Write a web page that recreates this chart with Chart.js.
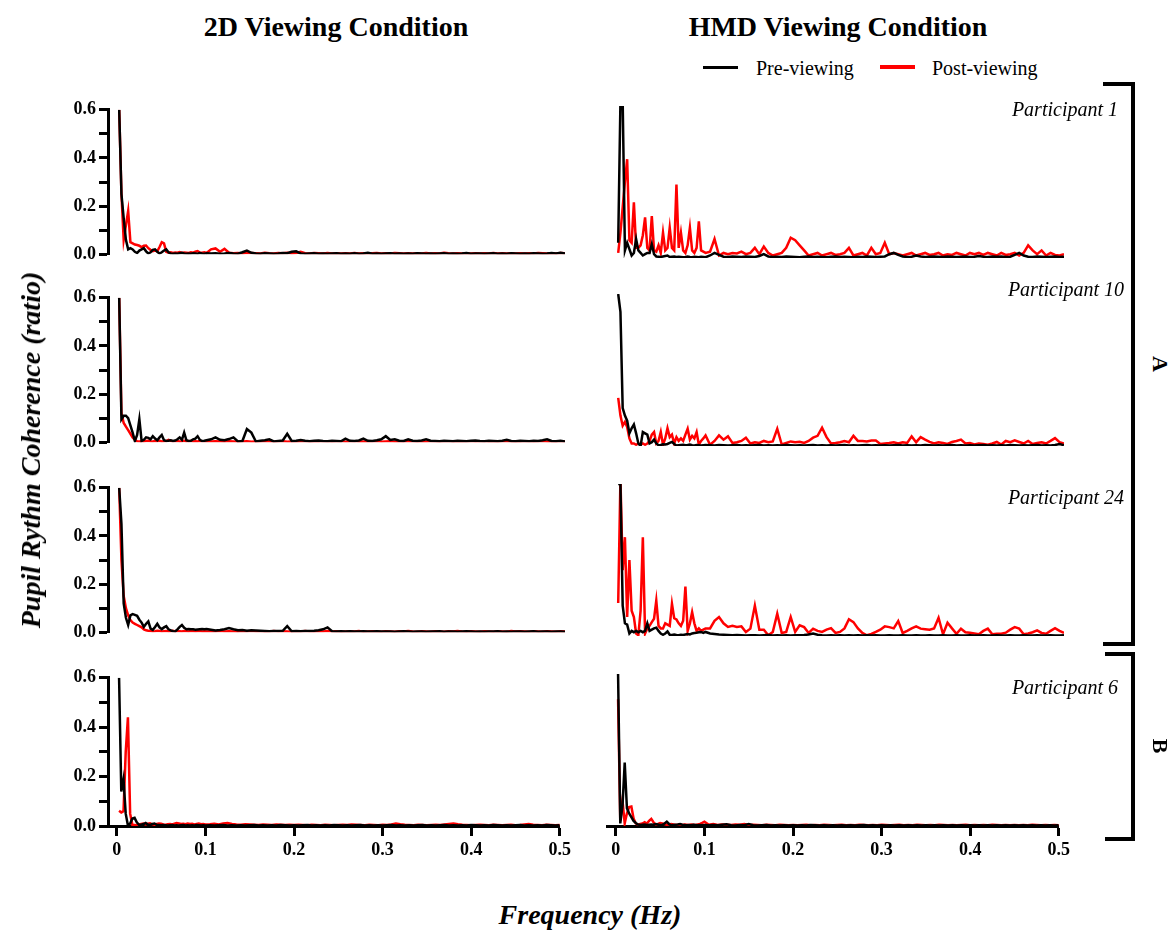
<!DOCTYPE html>
<html>
<head>
<meta charset="utf-8">
<script src="https://cdn.jsdelivr.net/npm/chart.js@4.4.0/dist/chart.umd.min.js"></script>
<style>
  html, body { margin:0; padding:0; background:#fff; }
  body { position:relative; width:1173px; height:930px; overflow:hidden; font-family:"Liberation Serif","Times New Roman",serif; color:#000; }
  .t { position:absolute; white-space:nowrap; line-height:1; }
  .bar { position:absolute; background:#000; }
</style>
</head>
<body>
<script>
// ---------------- DATA ----------------
const freqHz = [
.0025,.005,.0075,.01,.0125,.015,.0175,.02,.0225,.025,
.0275,.03,.0325,.035,.0375,.04,.0425,.045,.0475,.05,
.0525,.055,.0575,.06,.0625,.065,.0675,.07,.0725,.075,
.0775,.08,.0825,.085,.0875,.09,.0925,.095,.0975,.1,
.105,.11,.115,.12,.125,.13,.135,.14,.145,.15,
.155,.16,.165,.17,.175,.18,.185,.19,.195,.2,
.205,.21,.215,.22,.225,.23,.235,.24,.245,.25,
.255,.26,.265,.27,.275,.28,.285,.29,.295,.3,
.305,.31,.315,.32,.325,.33,.335,.34,.345,.35,
.355,.36,.365,.37,.375,.38,.385,.39,.395,.4,
.405,.41,.415,.42,.425,.43,.435,.44,.445,.45,
.455,.46,.465,.47,.475,.48,.485,.49,.495,.5];

const xTickValues = [0, 0.1, 0.2, 0.3, 0.4, 0.5];
const yTickValues = [0, 0.1, 0.2, 0.3, 0.4, 0.5, 0.6];
const seriesNames = ['Pre-viewing', 'Post-viewing'];
const participants = ['Participant 1', 'Participant 10', 'Participant 24', 'Participant 6'];
const conditions = ['2D Viewing Condition', 'HMD Viewing Condition'];

// 2D viewing condition
const pre2dP1 = [
.6,.25,.15,.06,.02,.025,.02,.01,.005,.015,
.02,.025,.012,.003,.008,.018,.02,.01,.003,.008,
.015,.02,.008,.003,.002,.003,.002,.004,.006,.003,
.002,.003,.002,.004,.003,.002,.005,.003,.002,.004,
.003,.004,.002,.003,.005,.003,.002,.008,.015,.006,
.003,.002,.004,.003,.002,.003,.005,.004,.01,.012,
.003,.002,.003,.004,.002,.003,.002,.003,.004,.002,
.003,.002,.004,.002,.003,.006,.002,.003,.002,.003,
.004,.002,.003,.002,.003,.002,.004,.003,.002,.003,
.002,.003,.004,.002,.003,.002,.003,.005,.002,.003,
.003,.002,.003,.004,.002,.003,.002,.004,.003,.002,
.003,.002,.004,.003,.002,.003,.005,.003,.006,.003];
const post2dP1 = [
.6,.25,.06,.12,.18,.05,.045,.04,.038,.035,
.03,.035,.036,.025,.018,.013,.015,.012,.03,.05,
.045,.01,.006,.008,.005,.007,.006,.009,.005,.007,
.006,.005,.008,.006,.01,.013,.007,.006,.008,.005,
.02,.024,.01,.022,.006,.004,.005,.003,.006,.005,
.004,.003,.006,.004,.003,.005,.004,.006,.003,.005,
.01,.004,.003,.005,.004,.003,.005,.003,.004,.003,
.004,.003,.005,.003,.004,.003,.004,.005,.003,.004,
.003,.005,.004,.003,.004,.003,.004,.003,.005,.003,
.004,.003,.006,.004,.003,.004,.003,.004,.003,.004,
.003,.004,.003,.005,.003,.004,.003,.004,.003,.004,
.003,.004,.003,.005,.004,.003,.004,.003,.005,.004];
const pre2dP10 = [
.6,.095,.11,.11,.1,.07,.04,.005,.03,.095,
.005,.01,.02,.018,.012,.025,.015,.008,.02,.03,
.008,.005,.006,.008,.005,.007,.012,.02,.01,.04,
.008,.005,.006,.012,.015,.025,.01,.005,.006,.008,
.012,.02,.01,.008,.013,.02,.003,.005,.055,.04,
.003,.006,.008,.012,.003,.005,.007,.035,.005,.006,
.009,.006,.004,.006,.007,.005,.004,.006,.005,.004,
.015,.006,.005,.007,.015,.006,.005,.008,.012,.025,
.009,.012,.006,.005,.012,.006,.005,.007,.012,.006,
.005,.004,.006,.005,.004,.006,.005,.004,.006,.007,
.005,.004,.006,.005,.004,.006,.01,.005,.004,.006,
.005,.004,.006,.005,.008,.012,.005,.004,.006,.003];
const post2dP10 = [
.6,.12,.08,.065,.05,.035,.02,.01,.004,.003,
.004,.003,.005,.006,.004,.003,.005,.004,.006,.003,
.004,.005,.01,.006,.003,.004,.005,.003,.004,.006,
.003,.004,.005,.003,.004,.003,.005,.004,.003,.004,
.003,.004,.003,.002,.004,.003,.002,.003,.004,.002,
.003,.002,.004,.003,.002,.003,.004,.002,.003,.002,
.003,.004,.002,.003,.002,.004,.003,.002,.003,.004,
.002,.003,.004,.002,.003,.002,.003,.004,.002,.003,
.004,.002,.003,.002,.004,.003,.002,.003,.002,.004,
.003,.002,.003,.004,.002,.003,.002,.003,.004,.002,
.003,.004,.002,.003,.002,.003,.004,.002,.003,.002,
.004,.003,.002,.003,.004,.002,.003,.002,.004,.003];
const pre2dP24 = [
.6,.45,.12,.06,.03,.07,.075,.072,.068,.052,
.04,.022,.035,.045,.015,.01,.022,.035,.02,.013,
.02,.025,.012,.008,.004,.003,.012,.022,.03,.018,
.012,.013,.012,.012,.01,.011,.012,.013,.012,.013,
.01,.007,.009,.012,.017,.012,.008,.009,.006,.008,
.007,.006,.005,.004,.005,.005,.006,.025,.004,.005,
.004,.005,.005,.006,.008,.012,.02,.004,.003,.004,
.003,.004,.003,.003,.004,.003,.003,.004,.003,.003,
.003,.002,.003,.004,.003,.002,.003,.003,.002,.003,
.003,.004,.002,.003,.003,.002,.003,.004,.003,.002,
.003,.002,.003,.003,.004,.002,.003,.002,.003,.003,
.002,.003,.004,.002,.003,.003,.002,.003,.003,.002];
const post2dP24 = [
.6,.3,.15,.1,.07,.05,.04,.035,.03,.025,
.02,.012,.008,.006,.005,.003,.004,.006,.005,.003,
.004,.005,.003,.004,.006,.003,.005,.004,.003,.005,
.004,.003,.005,.004,.003,.004,.005,.003,.004,.003,
.004,.003,.005,.003,.004,.003,.002,.004,.003,.005,
.003,.004,.002,.003,.005,.003,.004,.003,.002,.004,
.003,.005,.003,.002,.004,.003,.005,.003,.004,.002,
.003,.004,.003,.005,.002,.003,.004,.003,.002,.004,
.003,.002,.004,.003,.005,.003,.002,.004,.003,.002,
.004,.003,.002,.004,.003,.005,.003,.002,.004,.003,
.002,.004,.003,.002,.004,.003,.002,.005,.003,.004,
.003,.002,.004,.003,.002,.004,.003,.002,.004,.003];
const pre2dP6 = [
.6,.14,.19,.05,.002,.01,.03,.033,.015,.005,
.005,.008,.012,.006,.004,.008,.01,.005,.004,.003,
.004,.003,.002,.003,.004,.002,.003,.002,.003,.004,
.002,.003,.002,.003,.002,.004,.003,.002,.003,.002,
.003,.002,.003,.004,.002,.003,.002,.003,.002,.003,
.004,.002,.003,.002,.003,.002,.004,.003,.002,.003,
.002,.003,.004,.002,.003,.002,.003,.002,.004,.003,
.002,.003,.002,.003,.004,.002,.003,.002,.003,.002,
.003,.004,.002,.003,.002,.003,.002,.003,.004,.002,
.003,.002,.003,.004,.002,.003,.002,.003,.002,.004,
.003,.002,.003,.002,.004,.003,.002,.003,.002,.003,
.004,.002,.003,.002,.003,.002,.004,.003,.002,.003];
const post2dP6 = [
.062,.055,.06,.3,.44,.05,.005,.004,.003,.006,
.008,.01,.006,.009,.011,.007,.005,.008,.01,.009,
.006,.005,.007,.008,.006,.009,.012,.01,.008,.009,
.007,.01,.008,.009,.006,.008,.01,.007,.008,.006,
.007,.009,.006,.01,.012,.008,.006,.005,.007,.006,
.005,.004,.006,.005,.004,.006,.005,.004,.005,.004,
.005,.004,.003,.005,.004,.003,.005,.004,.003,.004,
.005,.004,.006,.005,.004,.003,.005,.004,.003,.005,
.004,.006,.01,.007,.005,.004,.003,.005,.004,.003,
.004,.005,.004,.006,.008,.01,.007,.005,.004,.003,
.004,.005,.004,.003,.005,.004,.003,.004,.005,.003,
.004,.006,.008,.005,.004,.003,.005,.004,.003,.004];

// HMD viewing condition
const preHmdP1 = [
.06,.62,.62,.03,.06,.035,.01,.02,.075,.03,
.02,.01,.015,.02,.02,.055,.015,.006,.005,.004,
.006,.008,.01,.004,.005,.006,.004,.005,.004,.003,
.004,.006,.004,.003,.005,.004,.003,.005,.004,.003,
.01,.02,.012,.005,.004,.006,.005,.004,.006,.005,
.004,.008,.015,.006,.004,.005,.004,.006,.005,.004,
.003,.005,.006,.004,.005,.004,.003,.005,.006,.004,
.005,.004,.003,.005,.004,.006,.005,.004,.005,.006,
.015,.02,.012,.006,.004,.005,.01,.006,.004,.005,
.006,.005,.004,.006,.005,.004,.005,.006,.004,.005,
.008,.005,.004,.006,.005,.006,.004,.005,.012,.02,
.01,.005,.004,.006,.005,.004,.005,.006,.004,.005];
const postHmdP1 = [
.02,.1,.2,.3,.39,.07,.06,.22,.04,.04,
.05,.09,.16,.04,.03,.165,.03,.025,.05,.02,
.1,.03,.04,.12,.04,.03,.29,.04,.1,.03,
.02,.05,.12,.03,.02,.04,.145,.03,.025,.02,
.025,.075,.01,.02,.015,.02,.018,.025,.015,.02,
.04,.015,.045,.02,.01,.015,.02,.04,.08,.07,
.05,.03,.01,.015,.02,.01,.015,.02,.012,.015,
.02,.04,.01,.015,.02,.01,.04,.015,.02,.06,
.015,.02,.015,.01,.015,.02,.01,.015,.02,.012,
.015,.02,.01,.015,.012,.02,.015,.01,.02,.015,
.02,.012,.02,.015,.01,.02,.012,.015,.02,.01,
.02,.05,.03,.015,.03,.01,.02,.012,.01,.015];
const preHmdP10 = [
.6,.53,.15,.12,.1,.05,.07,.085,.05,.01,
.0,.055,.05,.045,.01,.015,.025,.01,.003,.004,
.007,.006,.008,.012,.016,.008,.002,.003,.004,.005,
.003,.004,.006,.003,.002,.004,.003,.002,.003,.004,
.003,.002,.004,.003,.002,.003,.004,.002,.003,.002,
.003,.004,.002,.003,.002,.003,.002,.004,.003,.002,
.003,.002,.003,.004,.002,.003,.002,.003,.002,.003,
.004,.002,.003,.002,.003,.004,.002,.003,.002,.003,
.002,.003,.004,.002,.003,.002,.003,.002,.004,.003,
.002,.003,.002,.003,.004,.002,.003,.002,.003,.002,
.003,.004,.002,.003,.002,.003,.002,.004,.003,.002,
.003,.002,.003,.004,.002,.003,.002,.004,.008,.003];
const postHmdP10 = [
.19,.12,.08,.095,.075,.03,.01,.01,.005,.01,
.005,.01,.005,.01,.02,.045,.055,.01,.02,.055,
.005,.03,.07,.035,.045,.01,.035,.02,.03,.02,
.045,.068,.025,.04,.03,.055,.005,.02,.03,.042,
.005,.02,.042,.025,.038,.012,.015,.02,.033,.01,
.015,.012,.02,.015,.018,.068,.006,.012,.018,.015,
.017,.012,.02,.033,.04,.072,.035,.01,.012,.015,
.02,.015,.04,.02,.02,.018,.022,.022,.008,.01,
.012,.015,.01,.015,.012,.038,.015,.035,.025,.016,
.01,.015,.012,.008,.016,.02,.025,.01,.012,.006,
.01,.008,.005,.01,.016,.006,.02,.015,.022,.016,
.01,.02,.008,.012,.015,.01,.02,.031,.015,.01];
const preHmdP24 = [
.6,.6,.12,.05,.045,.01,.02,.015,.02,.015,
.02,.015,.02,.05,.02,.025,.03,.033,.02,.01,
.005,.01,.018,.005,.004,.006,.004,.003,.005,.004,
.006,.008,.006,.01,.012,.013,.015,.016,.012,.016,
.01,.008,.006,.005,.004,.003,.004,.003,.002,.003,
.003,.002,.003,.004,.002,.003,.002,.003,.002,.003,
.003,.004,.006,.01,.005,.003,.002,.003,.002,.003,
.002,.003,.002,.003,.002,.003,.002,.003,.002,.002,
.003,.002,.002,.003,.002,.002,.003,.002,.002,.003,
.002,.002,.003,.002,.002,.003,.002,.002,.003,.002,
.002,.003,.002,.002,.003,.002,.002,.003,.002,.002,
.003,.002,.002,.003,.002,.002,.003,.002,.002,.003];
const postHmdP24 = [
.13,.62,.26,.39,.075,.3,.1,.075,.01,.003,
.1,.39,.01,.03,.04,.055,.068,.14,.04,.03,
.03,.05,.045,.04,.127,.07,.065,.05,.04,.06,
.195,.02,.05,.094,.05,.02,.03,.02,.025,.03,
.03,.06,.075,.05,.036,.04,.036,.038,.016,.029,
.12,.025,.025,.003,.016,.088,.012,.016,.075,.016,
.042,.035,.012,.029,.02,.016,.025,.031,.012,.016,
.03,.066,.055,.03,.012,.003,.008,.016,.025,.038,
.035,.03,.059,.012,.02,.03,.038,.029,.027,.025,
.03,.072,.007,.052,.03,.009,.029,.015,.013,.01,
.007,.02,.029,.007,.009,.009,.013,.025,.035,.029,
.007,.01,.015,.022,.012,.009,.02,.031,.02,.012];
const preHmdP6 = [
.6,.01,.08,.25,.07,.05,.035,.02,.012,.006,
.004,.005,.006,.004,.005,.006,.005,.008,.006,.004,
.005,.01,.017,.008,.003,.004,.005,.006,.008,.005,
.004,.003,.004,.003,.005,.004,.003,.004,.003,.004,
.003,.004,.003,.005,.007,.003,.002,.004,.003,.008,
.003,.002,.003,.004,.002,.003,.002,.003,.002,.003,
.002,.003,.002,.004,.003,.002,.003,.002,.003,.002,
.003,.002,.003,.002,.003,.004,.002,.003,.002,.003,
.002,.003,.002,.003,.002,.003,.002,.003,.002,.003,
.002,.003,.002,.003,.002,.003,.002,.003,.002,.003,
.002,.003,.002,.003,.002,.003,.002,.003,.002,.003,
.002,.003,.002,.003,.002,.003,.002,.003,.002,.003];
const postHmdP6 = [
.5,.02,.1,.01,.05,.075,.077,.03,.01,.005,
.008,.01,.015,.01,.02,.028,.015,.005,.008,.012,
.01,.008,.005,.006,.008,.006,.004,.005,.006,.004,
.006,.005,.004,.006,.005,.004,.006,.008,.012,.017,
.005,.008,.004,.006,.005,.004,.006,.005,.008,.004,
.005,.004,.003,.005,.004,.003,.005,.004,.003,.004,
.003,.004,.005,.003,.004,.003,.005,.004,.003,.004,
.005,.003,.004,.003,.005,.004,.003,.004,.003,.005,
.004,.003,.004,.005,.003,.004,.003,.005,.004,.003,
.004,.003,.005,.004,.003,.004,.003,.004,.005,.003,
.004,.003,.004,.003,.005,.004,.003,.004,.003,.004,
.003,.004,.003,.005,.004,.003,.004,.003,.004,.003];

// ---------------- LAYOUT ----------------
const panels = [
  {pre:pre2dP1,  post:post2dP1,  col:0, row:0},
  {pre:pre2dP10, post:post2dP10, col:0, row:1},
  {pre:pre2dP24, post:post2dP24, col:0, row:2},
  {pre:pre2dP6,  post:post2dP6,  col:0, row:3},
  {pre:preHmdP1,  post:postHmdP1,  col:1, row:0},
  {pre:preHmdP10, post:postHmdP10, col:1, row:1},
  {pre:preHmdP24, post:postHmdP24, col:1, row:2},
  {pre:preHmdP6,  post:postHmdP6,  col:1, row:3}
];
const rowTops = [106, 294, 484, 674];
const FONT = '"Liberation Serif","Times New Roman",serif';

function addText(txt, x, y, css, transform) {
  const d = document.createElement('div');
  d.className = 't';
  d.textContent = txt;
  d.style.cssText += `left:${x}px;top:${y}px;${css};transform:${transform}`;
  document.body.appendChild(d);
  return d;
}
function addBar(x, y, w, h, color) {
  const d = document.createElement('div');
  d.className = 'bar';
  d.style.cssText += `left:${x}px;top:${y}px;width:${w}px;height:${h}px;background:${color}`;
  document.body.appendChild(d);
}

function makeChart(p) {
  const isLeft = p.col === 0, isBottom = p.row === 3;
  const left = isLeft ? 30 : 597;
  const w = isLeft ? 545 : 477;
  const top = rowTops[p.row] - 10;
  const h = isBottom ? 10 + 152 + 50 : 10 + 152 + 10;
  const cv = document.createElement('canvas');
  cv.width = w; cv.height = h;
  cv.style.cssText = `position:absolute;left:${left}px;top:${top}px;width:${w}px;height:${h}px`;
  document.body.appendChild(cv);
  const mk = (arr) => freqHz.map((f, i) => ({x: f, y: arr[i]}));
  new Chart(cv, {
    type: 'line',
    data: {
      datasets: [
        {label: seriesNames[0], data: mk(p.pre), borderColor: '#000000', borderWidth: 2.5, pointRadius: 0, tension: 0, fill: false},
        {label: seriesNames[1], data: mk(p.post), borderColor: '#ff0000', borderWidth: 2.5, pointRadius: 0, tension: 0, fill: false}
      ]
    },
    options: {
      responsive: false, animation: false, devicePixelRatio: 1,
      layout: {padding: {left: isLeft ? 0 : 10, right: 10, top: 10, bottom: isBottom ? 0 : 10}},
      plugins: {legend: {display: false}, tooltip: {enabled: false}},
      scales: {
        x: {
          type: 'linear', min: -0.01, max: 0.5, display: isBottom,
          afterBuildTicks: s => { s.ticks = xTickValues.map(v => ({value: v})); },
          afterFit: s => { s.height = isBottom ? 50 : 0; },
          border: {display: true, width: 3, color: '#000'},
          grid: {drawOnChartArea: false, drawTicks: true, tickLength: 10, tickWidth: 3, tickColor: '#000'},
          ticks: {color: '#000', padding: 4, maxRotation: 0, autoSkip: false,
                  font: {family: FONT, size: 18, weight: 'bold'},
                  callback: v => v === 0 ? '0' : v.toFixed(1)}
        },
        y: {
          type: 'linear', min: 0, max: 0.6, display: isLeft,
          afterBuildTicks: s => { s.ticks = yTickValues.map(v => ({value: v})); },
          afterFit: s => { s.width = isLeft ? 78 : 0; },
          border: {display: true, width: 3, color: '#000'},
          grid: {drawOnChartArea: false, drawTicks: true, tickLength: 9, tickWidth: 3, tickColor: '#000'},
          ticks: {color: '#000', padding: 3, autoSkip: false,
                  font: {family: FONT, size: 18, weight: 'bold'},
                  callback: v => (Math.round(v * 10) % 2 === 0) ? v.toFixed(1) : ''}
        }
      }
    }
  });
}
panels.forEach(makeChart);

// Titles
addText(conditions[0], 336, 27, `font:bold 28px ${FONT}`, 'translate(-50%,-50%)');
addText(conditions[1], 838, 27, `font:bold 28px ${FONT}`, 'translate(-50%,-50%)');

// Legend
addBar(703, 66, 35, 3, '#000');
addText(seriesNames[0], 756, 68, `font:20px ${FONT}`, 'translate(0,-50%)');
addBar(880, 65, 35, 4, '#ff0000');
addText(seriesNames[1], 932, 68, `font:20px ${FONT}`, 'translate(0,-50%)');

// Participant labels
addText(participants[0], 1118, 109, `font:italic 20px ${FONT}`, 'translate(-100%,-50%)');
addText(participants[1], 1124, 289, `font:italic 20px ${FONT}`, 'translate(-100%,-50%)');
addText(participants[2], 1124, 497, `font:italic 20px ${FONT}`, 'translate(-100%,-50%)');
addText(participants[3], 1118, 687, `font:italic 20px ${FONT}`, 'translate(-100%,-50%)');

// Axis titles
addText('Pupil Rythm Coherence (ratio)', 31, 450, `font:italic bold 28px ${FONT}`, 'translate(-50%,-50%) rotate(-90deg)');
addText('Frequency (Hz)', 590, 915, `font:italic bold 28px ${FONT}`, 'translate(-50%,-50%)');

// Group brackets
addBar(1131, 82, 4, 564, '#000');
addBar(1103, 82, 32, 4, '#000');
addBar(1103, 642, 32, 4, '#000');
addText('A', 1160, 364, `font:bold 22px ${FONT}`, 'translate(-50%,-50%) rotate(90deg)');
addBar(1131, 652, 4, 189, '#000');
addBar(1105, 652, 30, 4, '#000');
addBar(1105, 837, 30, 4, '#000');
addText('B', 1160, 746, `font:bold 22px ${FONT}`, 'translate(-50%,-50%) rotate(90deg)');
</script>
</body>
</html>
